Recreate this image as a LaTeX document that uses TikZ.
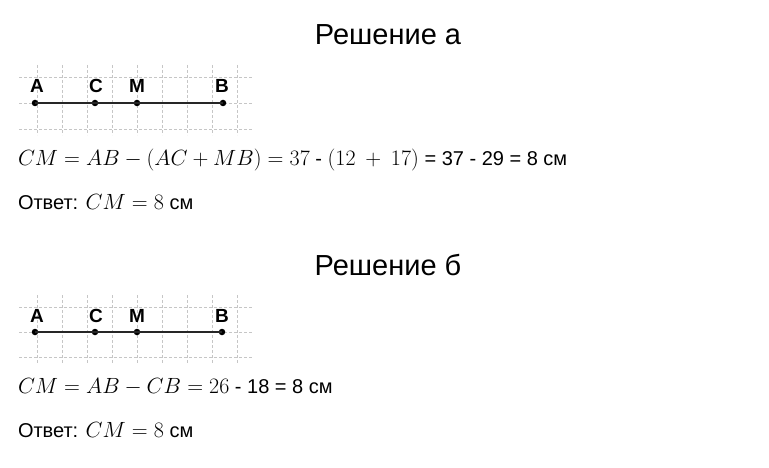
\RequirePackage{fix-cm}
\documentclass[tikz,border=0pt]{standalone}
\usepackage{amsmath}
\usepackage[no-math]{fontspec}
\setmainfont{Liberation Sans}
\usepackage{tikz}

% math set larger than the text round it
\newcommand{\mth}[1]{{\fontsize{22}{24}\selectfont$#1$}}

\begin{document}
\begin{tikzpicture}[x=1pt, y=-1pt,
    %Styles
    inner sep=0pt, outer sep=0pt,%
    grid_line/.style={gray!45, densely dashed, line width=0.8pt},
    segment/.style={black!85, line width=2pt},
    dot/.style={circle, fill=black, minimum size=6.5pt},
    point_label/.style={font=\fontsize{19}{19}\selectfont\bfseries, anchor=base},
    title/.style={font=\fontsize{29}{30}\selectfont, anchor=base},
    formula/.style={font=\fontsize{20}{22}\selectfont, anchor=base west},
    answer/.style={font=\fontsize{20}{22}\selectfont, anchor=base west},
]
    \useasboundingbox (0,0) rectangle (769,468);

    % Part a
    \node[title] (title_a) at (388,45) {Решение а};

    % Grid a
    \foreach \x in {37,62,...,237}
        \draw[grid_line] (\x,65) -- (\x,135);
    \foreach \y in {77,103,129}
        \draw[grid_line] (19,\y) -- (253,\y);

    % Segment a
    \node[dot] (A1) at (35,103) {};
    \node[dot] (C1) at (95,103) {};
    \node[dot] (M1) at (137,103) {};
    \node[dot] (B1) at (223,103) {};
    \draw[segment] (A1.center) -- (C1.center) -- (M1.center) -- (B1.center);
    \node[point_label] (lA1) at (37,93) {A};
    \node[point_label] (lC1) at (96,93) {C};
    \node[point_label] (lM1) at (137,93) {M};
    \node[point_label] (lB1) at (222,93) {B};

    \node[formula] (eq_a) at (18,166)
        {\mth{CM = AB - (AC + MB) = 37} - \mth{(12\:+\:17)} = 37 - 29 = 8 см};
    \node[answer] (ans_a) at (18,209) {Ответ: \mth{CM = 8} см};

    % Part b
    \node[title] (title_b) at (388,275) {Решение б};

    % Grid b
    \foreach \x in {37,62,...,237}
        \draw[grid_line] (\x,295) -- (\x,363);
    \foreach \y in {307,332,357}
        \draw[grid_line] (19,\y) -- (253,\y);

    % Segment b
    \node[dot] (A2) at (35,332) {};
    \node[dot] (C2) at (95,332) {};
    \node[dot] (M2) at (137,332) {};
    \node[dot] (B2) at (222,332) {};
    \draw[segment] (A2.center) -- (C2.center) -- (M2.center) -- (B2.center);
    \node[point_label] (lA2) at (37,322) {A};
    \node[point_label] (lC2) at (96,322) {C};
    \node[point_label] (lM2) at (137,322) {M};
    \node[point_label] (lB2) at (222,322) {B};

    \node[formula] (eq_b) at (18,393) {\mth{CM = AB - CB = 26} - 18 = 8 см};
    \node[answer] (ans_b) at (18,437) {Ответ: \mth{CM = 8} см};
\end{tikzpicture}
\end{document}
